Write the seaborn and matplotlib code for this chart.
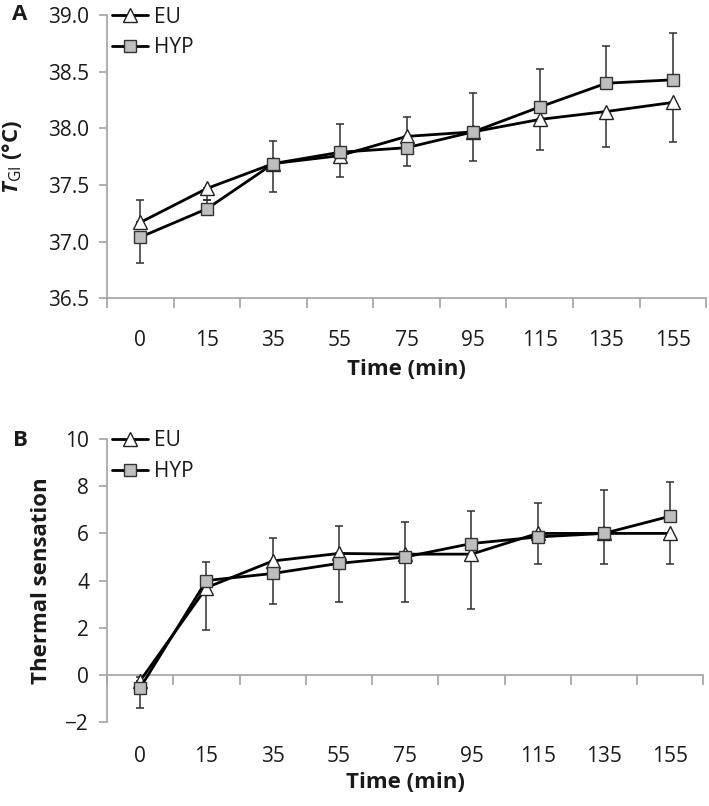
import numpy as np
import matplotlib
matplotlib.use('Agg')
import matplotlib.pyplot as plt
import seaborn as sns

# time points (categorical axis)
times = ['0', '15', '35', '55', '75', '95', '115', '135', '155']

# panel A: gastrointestinal temperature (deg C)
tgi_eu = [37.17, 37.47, 37.69, 37.76, 37.93, 37.97, 38.08, 38.15, 38.23]
tgi_eu_lo = [0.00, 0.10, 0.25, 0.19, 0.26, 0.26, 0.27, 0.31, 0.35]
tgi_eu_hi = [0.20, 0.00, 0.00, 0.00, 0.00, 0.00, 0.00, 0.00, 0.00]
tgi_hyp = [37.04, 37.29, 37.69, 37.79, 37.83, 37.97, 38.19, 38.40, 38.43]
tgi_hyp_lo = [0.23, 0.00, 0.00, 0.00, 0.00, 0.00, 0.00, 0.00, 0.00]
tgi_hyp_hi = [0.00, 0.08, 0.20, 0.25, 0.27, 0.34, 0.34, 0.33, 0.41]

# panel B: thermal sensation
ts_eu = [-0.25, 3.70, 4.83, 5.15, 5.12, 5.12, 6.00, 6.00, 6.00]
ts_eu_lo = [0.00, 1.80, 1.83, 2.05, 2.02, 2.32, 1.30, 1.30, 1.30]
ts_eu_hi = [0.15, 0.00, 0.00, 0.00, 0.00, 0.00, 0.00, 0.00, 0.00]
ts_hyp = [-0.55, 4.00, 4.30, 4.73, 5.00, 5.57, 5.85, 6.00, 6.73]
ts_hyp_lo = [0.85, 0.00, 0.00, 0.00, 0.00, 0.00, 0.00, 0.00, 0.00]
ts_hyp_hi = [0.00, 0.80, 1.50, 1.57, 1.50, 1.38, 1.45, 1.83, 1.47]

sns.set_theme(style='white')
plt.rcParams['font.family'] = ['Open Sans', 'DejaVu Sans']
plt.rcParams['mathtext.fontset'] = 'custom'
plt.rcParams['mathtext.rm'] = 'Open Sans'
plt.rcParams['mathtext.bf'] = 'Open Sans:bold'
plt.rcParams['mathtext.it'] = 'Open Sans:italic'
plt.rcParams['mathtext.bfit'] = 'Open Sans:italic:bold'

GRAY = '#a6a6a6'
TXT = '#1a1a1a'
FS = 15
LFS = 16  # axis titles

fig = plt.figure(figsize=(7.09, 8.06), dpi=100)
axA = fig.add_axes([0.151, 0.630, 0.845, 0.351])
axB = fig.add_axes([0.151, 0.1042, 0.841, 0.351])

pos = np.arange(len(times))
bounds = np.arange(-0.5, len(times), 1.0)


def draw_series(ax, eu, eu_lo, eu_hi, hyp, hyp_lo, hyp_hi):
    ax.errorbar(pos, eu, yerr=[eu_lo, eu_hi], fmt='none', ecolor='#303030',
                elinewidth=1.1, capsize=2.6, capthick=1.1, zorder=2)
    ax.errorbar(pos, hyp, yerr=[hyp_lo, hyp_hi], fmt='none', ecolor='#303030',
                elinewidth=1.1, capsize=2.6, capthick=1.1, zorder=2)
    sns.lineplot(x=pos, y=eu, ax=ax, color='black', lw=2.0, marker='^',
                 markersize=9.5, markerfacecolor='white', markeredgecolor='#222222',
                 markeredgewidth=1.0, label='EU', zorder=3)
    sns.lineplot(x=pos, y=hyp, ax=ax, color='black', lw=2.0, marker='s',
                 markersize=9, markerfacecolor='#bebebe', markeredgecolor='#333333',
                 markeredgewidth=1.0, label='HYP', zorder=4)
    ax.legend(loc='upper left', bbox_to_anchor=(-0.005, 1.06), frameon=False,
              fontsize=FS, handlelength=1.7, handletextpad=0.3,
              labelspacing=0.45, borderaxespad=0)
    for t in ax.get_legend().get_texts():
        t.set_color(TXT)
    ax.set_xlim(-0.5, len(times) - 0.5)
    ax.spines['top'].set_visible(False)
    ax.spines['right'].set_visible(False)
    ax.spines['left'].set_color(GRAY)
    ax.spines['bottom'].set_color(GRAY)
    ax.tick_params(axis='y', length=6, color=GRAY, labelsize=FS, labelcolor=TXT,
                   direction='out', left=True, pad=7)
    ax.set_xticks(pos, labels=times, minor=True)
    ax.tick_params(axis='x', which='minor', length=0, labelsize=FS, labelcolor=TXT)


# ---- panel A
draw_series(axA, tgi_eu, tgi_eu_lo, tgi_eu_hi, tgi_hyp, tgi_hyp_lo, tgi_hyp_hi)
axA.set_ylim(36.5, 39.0)
axA.set_yticks(np.arange(36.5, 39.01, 0.5))
axA.set_yticklabels([f'{v:.1f}' for v in np.arange(36.5, 39.01, 0.5)])
axA.set_xticks(bounds, labels=[''] * len(bounds))
axA.tick_params(axis='x', which='major', length=7, color=GRAY, direction='out', bottom=True)
axA.tick_params(axis='x', which='minor', pad=23)
axA.set_xlabel('Time (min)', fontsize=LFS, fontweight='bold', color=TXT, labelpad=6)
axA.set_ylabel(r'$\mathbfit{T}_{\mathrm{GI}}$ (°C)', fontsize=LFS, fontweight='bold', color=TXT)
axA.yaxis.set_label_coords(-0.138, 0.5)

# ---- panel B
draw_series(axB, ts_eu, ts_eu_lo, ts_eu_hi, ts_hyp, ts_hyp_lo, ts_hyp_hi)
axB.set_ylim(-2, 10)
axB.set_yticks(np.arange(-2, 11, 2))
axB.set_xticks([])
axB.spines['bottom'].set_visible(False)
axB.tick_params(axis='x', which='minor', pad=17)
axB.set_xlabel('Time (min)', fontsize=LFS, fontweight='bold', color=TXT, labelpad=4)
axB.set_ylabel('Thermal sensation', fontsize=LFS, fontweight='bold', color=TXT)
axB.yaxis.set_label_coords(-0.092, 0.5)

# zero line axis with category boundary ticks
sec = axB.secondary_xaxis(0, transform=axB.transData)
sec.set_alignment('bottom')
sec.set_xticks(bounds, labels=[''] * len(bounds))
sec.tick_params(axis='x', length=7, color=GRAY, direction='out')
for s in sec.spines.values():
    s.set_color(GRAY)

fig.text(20 / 709, 1 - 15 / 806, 'A', fontsize=LFS, fontweight='bold', color=TXT,
         ha='center', va='center')
fig.text(20 / 709, 1 - 440 / 806, 'B', fontsize=LFS, fontweight='bold', color=TXT,
         ha='center', va='center')

fig.savefig('out.png', dpi=100)
